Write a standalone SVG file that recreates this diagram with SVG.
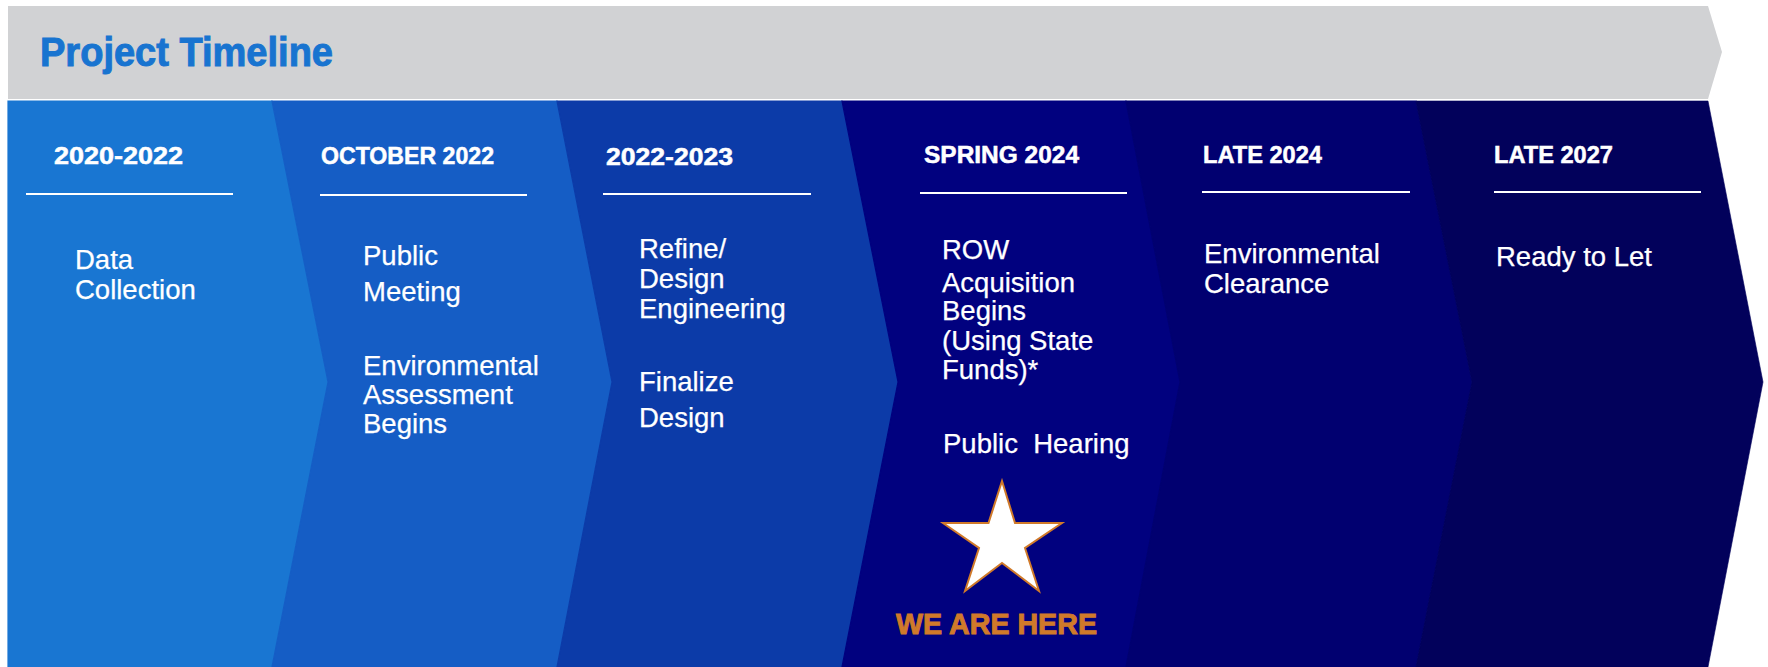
<svg xmlns="http://www.w3.org/2000/svg" width="1768" height="667" viewBox="0 0 1768 667">
<style>
.hdr{font-family:"Liberation Sans",Arial,sans-serif;font-weight:bold;font-size:24px;fill:#fff;stroke:#fff;stroke-width:0.5}
.body{font-family:"Liberation Sans",Arial,sans-serif;font-size:27.5px;fill:#fff;stroke:#fff;stroke-width:0.25}
.rule{stroke:#fff;stroke-width:2}
.panel{stroke-width:1.2;stroke-linejoin:miter}
</style>
<rect width="1768" height="667" fill="#fff"/>
<g id="banner">
<polygon points="8,6 1708,6 1722,52 1708,99 8,99" fill="#D1D2D4"/>
<text x="40" y="65.5" font-family="Liberation Sans,Arial,sans-serif" font-weight="bold" font-size="40" fill="#1874D0" stroke="#1874D0" stroke-width="1" textLength="293" lengthAdjust="spacingAndGlyphs">Project Timeline</text>
</g>
<g id="phase1">
<polygon class="panel" points="8,101 272,101 328,382 272,667 8,667" fill="#1976D2" stroke="#1976D2"/>
<text class="hdr" x="54" y="164" textLength="129" lengthAdjust="spacingAndGlyphs">2020-2022</text>
<line class="rule" x1="26" y1="194" x2="233" y2="194"/>
<text class="body" x="75" y="269">Data</text>
<text class="body" x="75" y="299">Collection</text>
</g>
<g id="phase2">
<polygon class="panel" points="272,101 557,101 612,382 557,667 272,667 328,382" fill="#155DC5" stroke="#155DC5"/>
<text class="hdr" x="321" y="164" textLength="173" lengthAdjust="spacingAndGlyphs">OCTOBER 2022</text>
<line class="rule" x1="320" y1="195" x2="527" y2="195"/>
<text class="body" x="363" y="265">Public</text>
<text class="body" x="363" y="301">Meeting</text>
<text class="body" x="363" y="375">Environmental</text>
<text class="body" x="363" y="404">Assessment</text>
<text class="body" x="363" y="433">Begins</text>
</g>
<g id="phase3">
<polygon class="panel" points="557,101 842,101 898,382 842,667 557,667 612,382" fill="#0C3BA8" stroke="#0C3BA8"/>
<text class="hdr" x="606" y="165" textLength="127" lengthAdjust="spacingAndGlyphs">2022-2023</text>
<line class="rule" x1="603" y1="194" x2="811" y2="194"/>
<text class="body" x="639" y="258">Refine/</text>
<text class="body" x="639" y="288">Design</text>
<text class="body" x="639" y="318">Engineering</text>
<text class="body" x="639" y="391">Finalize</text>
<text class="body" x="639" y="427">Design</text>
</g>
<g id="phase4">
<polygon class="panel" points="842,101 1126,101 1180,382 1126,667 842,667 898,382" fill="#01017F" stroke="#01017F"/>
<text class="hdr" x="924" y="163" textLength="155" lengthAdjust="spacingAndGlyphs">SPRING 2024</text>
<line class="rule" x1="920" y1="193" x2="1127" y2="193"/>
<text class="body" x="942" y="259">ROW</text>
<text class="body" x="942" y="292">Acquisition</text>
<text class="body" x="942" y="320">Begins</text>
<text class="body" x="942" y="350">(Using State</text>
<text class="body" x="942" y="379">Funds)*</text>
<text class="body" x="943" y="453" xml:space="preserve">Public  Hearing</text>
</g>
<g id="we-are-here">
<polygon points="1002,481 1015,523 1062,523 1025,548 1039,591 1002,563 965,591 979,548 943,523 988.5,523" fill="#fff" stroke="#D07A2A" stroke-width="2" stroke-linejoin="miter"/>
<text x="896" y="634" font-family="Liberation Sans,Arial,sans-serif" font-weight="bold" font-size="30" fill="#D07A2A" stroke="#D07A2A" stroke-width="1" textLength="201" lengthAdjust="spacingAndGlyphs">WE ARE HERE</text>
</g>
<g id="phase5">
<polygon class="panel" points="1126,101 1416,101 1472,382 1416,667 1126,667 1180,382" fill="#010070" stroke="#010070"/>
<text class="hdr" x="1203" y="163" textLength="119" lengthAdjust="spacingAndGlyphs">LATE 2024</text>
<line class="rule" x1="1202" y1="192" x2="1410" y2="192"/>
<text class="body" x="1204" y="263">Environmental</text>
<text class="body" x="1204" y="293">Clearance</text>
</g>
<g id="phase6">
<polygon points="1416,101 1708,101 1763,382 1708,667 1416,667 1472,382" fill="#02015B" stroke="#02015B" stroke-width="0.6"/>
<text class="hdr" x="1494" y="163" textLength="119" lengthAdjust="spacingAndGlyphs">LATE 2027</text>
<line class="rule" x1="1494" y1="192" x2="1701" y2="192"/>
<text class="body" x="1496" y="266">Ready to Let</text>
</g>
</svg>
